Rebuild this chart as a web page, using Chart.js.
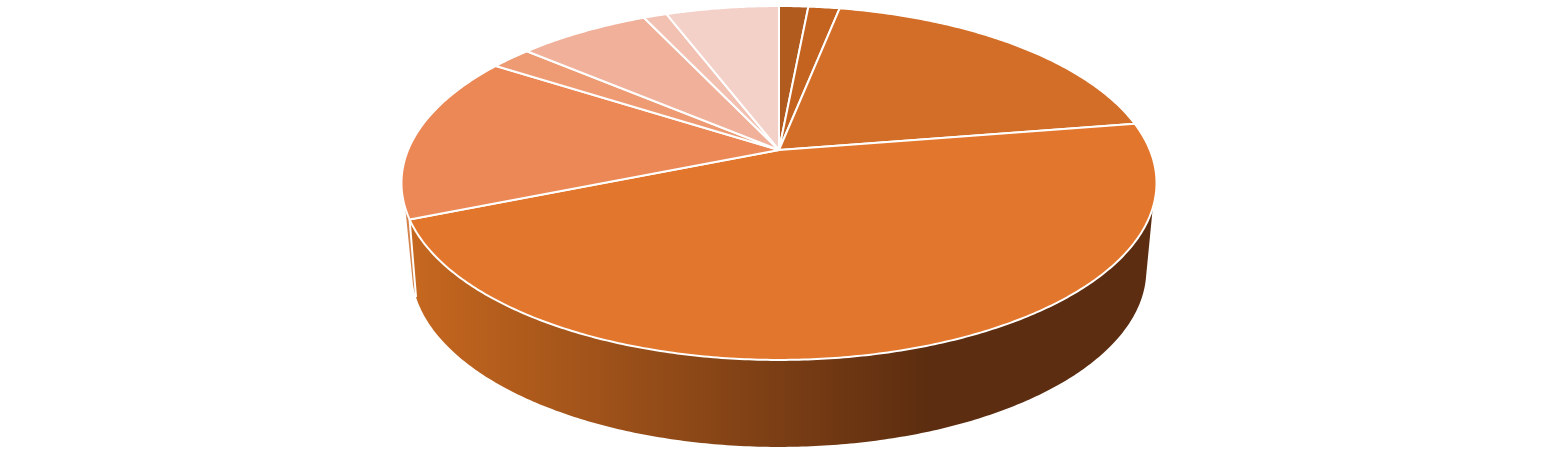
<!DOCTYPE html>
<html>
<head>
<meta charset="utf-8">
<title>Pie</title>
<script src="https://cdn.jsdelivr.net/npm/chart.js@4/dist/chart.umd.js"></script>
<style>
    html, body { margin: 0; padding: 0; background: #fff; }
    canvas { display: block; }
</style>
</head>
<body>
<canvas id="pieChart" width="1558" height="457"></canvas>
<script>
// Clockwise from twelve o'clock (percent of the disc)
const sliceLabels = ['A', 'B', 'C', 'D', 'E', 'F', 'G', 'H', 'I'];
const sliceValues = [1.5, 1.6, 19.4, 46.4, 15.3, 2.1, 6.8, 1.2, 5.8];
const sliceColors = ['#b15b1f', '#c3631f', '#d36e28', '#e3762d', '#ec8756',
                     '#ee9b74', '#f0b09a', '#f2c1b1', '#f4d1c8'];

// Perspective of the tilted disc
const view = { cx: 779, apexY: 150, a: 370.9, b: 170.8, k: -0.1864 };
const depth = { dy: 87, shrink: 0.973 };
const DEG = Math.PI / 180;
// Part of the rim that can be seen: angles on the top face and on the bottom face
const rimTop = [18.6 * DEG, 161.4 * DEG];
const rimBottom = [13.9 * DEG, 164.5 * DEG];

function projectTop(angle) {
    const u = Math.cos(angle), v = Math.sin(angle);
    const w = 1 + view.k * v;
    return [view.cx + view.a * u / w, view.apexY + view.b * v / w];
}

function projectBottom(angle) {
    const p = projectTop(angle);
    return [view.cx + (p[0] - view.cx) * depth.shrink, p[1] + depth.dy];
}

function traceArc(ctx, project, from, to) {
    const steps = Math.max(2, Math.ceil(Math.abs(to - from) / 0.01));
    for (let i = 0; i <= steps; i++) {
        const p = project(from + (to - from) * i / steps);
        ctx.lineTo(p[0], p[1]);
    }
}

// Slices are laid out by the pie controller, only the way they are painted changes
Chart.ArcElement.prototype.draw = function (ctx) {
    const o = this.options;
    ctx.save();
    ctx.beginPath();
    ctx.moveTo(view.cx, view.apexY);
    traceArc(ctx, projectTop, this.startAngle, this.endAngle);
    ctx.closePath();
    ctx.fillStyle = o.backgroundColor;
    ctx.fill();
    ctx.lineWidth = o.borderWidth;
    ctx.strokeStyle = o.borderColor;
    ctx.lineJoin = 'round';
    ctx.stroke();
    ctx.restore();
};

function rimAngle(angle) {
    const t = (angle - rimTop[0]) / (rimTop[1] - rimTop[0]);
    return rimBottom[0] + (rimBottom[1] - rimBottom[0]) * t;
}

const rimPlugin = {
    id: 'rim',
    beforeDatasetsDraw(chart) {
        const ctx = chart.ctx;
        const gradient = ctx.createLinearGradient(415, 0, 930, 0);
        gradient.addColorStop(0, '#c5671f');
        gradient.addColorStop(1, '#5c2d10');

        chart.getDatasetMeta(0).data.forEach((arc, i) => {
            const from = Math.max(arc.startAngle, rimTop[0]);
            const to = Math.min(arc.endAngle, rimTop[1]);
            if (to <= from) return;
            ctx.save();
            ctx.beginPath();
            const start = projectTop(from);
            ctx.moveTo(start[0], start[1]);
            traceArc(ctx, projectTop, from, to);
            traceArc(ctx, projectBottom, rimAngle(to), rimAngle(from));
            ctx.closePath();
            // the thin piece on the left is paler than the big one
            ctx.fillStyle = i === 4 ? '#d4834d' : gradient;
            ctx.fill();
            ctx.restore();
        });

        // white seam between the two rim pieces
        const seam = chart.getDatasetMeta(0).data[3].endAngle;
        const top = projectTop(seam), bottom = projectBottom(rimAngle(seam));
        ctx.save();
        ctx.strokeStyle = '#fff';
        ctx.lineWidth = 2;
        ctx.beginPath();
        ctx.moveTo(top[0], top[1]);
        ctx.lineTo(bottom[0], bottom[1]);
        ctx.stroke();
        ctx.restore();
    }
};

document.addEventListener('DOMContentLoaded', function () {
    new Chart(document.getElementById('pieChart').getContext('2d'), {
        type: 'pie',
        data: {
            labels: sliceLabels,
            datasets: [{
                data: sliceValues,
                backgroundColor: sliceColors,
                borderColor: '#ffffff',
                borderWidth: 2
            }]
        },
        options: {
            responsive: false,
            animation: false,
            plugins: {
                legend: { display: false },
                tooltip: { enabled: false }
            }
        },
        plugins: [rimPlugin]
    });
});
</script>
</body>
</html>
